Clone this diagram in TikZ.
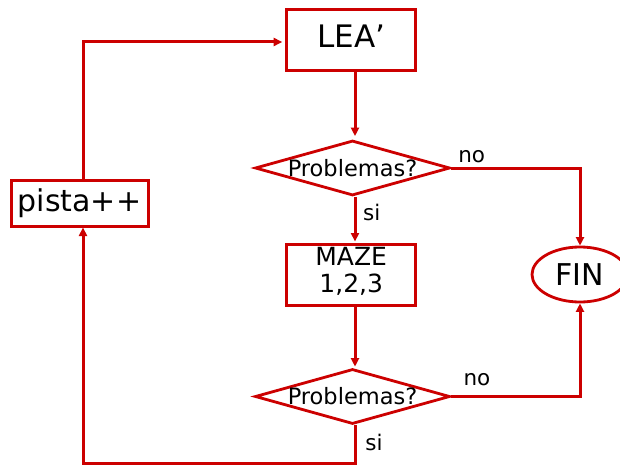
\documentclass[tikz,border=0pt]{standalone}
\usepackage{fontspec}
\setmainfont{DejaVu Sans}
\usetikzlibrary{shapes.geometric,arrows.meta}
\definecolor{flowred}{RGB}{204,0,0}
\begin{document}
\begin{tikzpicture}[x=1pt,y=-1pt,
  line/.style={draw=flowred,line width=3pt},
  arr/.style={line,-{Triangle[length=8.5pt,width=8pt]}},
  procbox/.style={draw=flowred,line width=3pt,rectangle,inner sep=0pt,fill=white},
  decision/.style={draw=flowred,line width=2.8pt,diamond,inner sep=0pt,
    minimum width=195pt,minimum height=55pt},
  qtext/.style={font=\fontsize{22.5}{26}\selectfont,inner sep=0pt},
  tag/.style={font=\fontsize{21.5}{24}\selectfont,inner sep=0pt}]
\useasboundingbox (0,0) rectangle (620,465);

% columns used by the vertical connectors
\coordinate (vx) at (355,0);
\coordinate (lx) at (83,0);

% nodes
\node[procbox,minimum width=129pt,minimum height=61pt,
  label={[font=\fontsize{31}{34}\selectfont,inner sep=0pt,yshift=3pt]center:LEA’}]
  (lea) at (351.2,39.7) {};
\node[decision,label={[qtext]center:Problemas?}] (d1) at (352.5,168) {};
\node[procbox,minimum width=129pt,minimum height=61pt,
  label={[font=\fontsize{25}{26.7}\selectfont,align=center,inner sep=0pt,yshift=3pt]center:MAZE\\1,2,3}]
  (maze) at (351.2,274.5) {};
\node[decision,label={[qtext]center:Problemas?}] (d2) at (352.5,396.5) {};
\node[draw=flowred,line width=2.8pt,ellipse,inner sep=0pt,
  minimum width=96pt,minimum height=55pt,
  font=\fontsize{30}{32}\selectfont] (fin) at (580,274.5) {FIN};
\node[procbox,minimum width=137pt,minimum height=46pt,
  font=\fontsize{30}{32}\selectfont] (pista) at (79.5,203) {pista++};

% bend points
\coordinate (b1) at (d1.east -| fin.north);
\coordinate (b2) at (d2.east -| fin.south);
\coordinate (b3) at (vx |- 0,463);
\coordinate (b4) at (lx |- 0,463);
\coordinate (b5) at (lx |- 0,42);

% connectors
\draw[arr,shorten >=3pt] (lea.south -| vx) -- (d1.north -| vx);
\draw[arr,shorten >=1pt] (d1.south -| vx) -- (maze.north -| vx);
\draw[arr,shorten >=1pt] (maze.south -| vx) -- (d2.north -| vx);
\draw[arr] (d1.east) -- (b1) -- (fin.north);
\draw[arr] (d2.east) -- (b2) -- (fin.south);
\draw[arr] (d2.south -| vx) -- (b3) -- (b4) -- (pista.south -| lx);
\draw[arr,shorten >=3pt] (pista.north -| lx) -- (b5) -- (lea.west |- b5);

% branch labels
\node[tag] (no1) at (471.7,156.7) {no};
\node[tag] (si1) at (371.7,212) {si};
\node[tag] (no2) at (477,380) {no};
\node[tag] (si2) at (374,442) {si};
\end{tikzpicture}
\end{document}
